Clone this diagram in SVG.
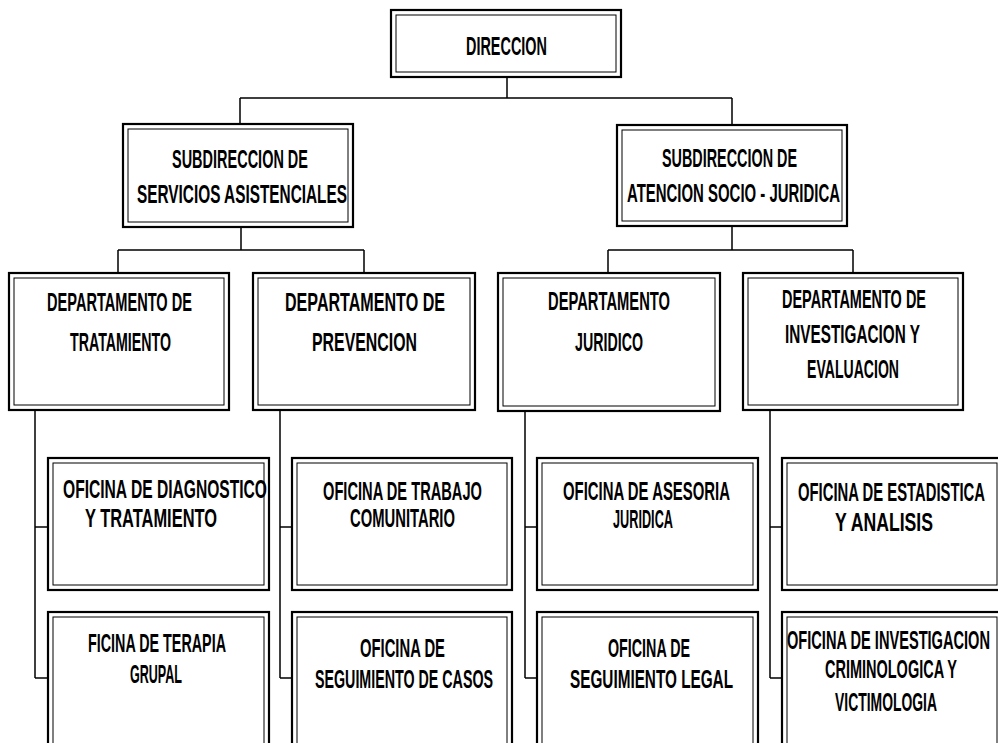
<svg xmlns="http://www.w3.org/2000/svg" width="998" height="743" viewBox="0 0 998 743">
<style>
.outer{fill:#fff;stroke:#000;stroke-width:2.2}
.inner{fill:none;stroke:#000;stroke-width:1}
.t{font-family:"Liberation Sans Narrow","Liberation Sans",Arial,sans-serif;font-size:26px;font-weight:bold;fill:#000;text-anchor:middle}
.c{fill:none;stroke:#000;stroke-width:1.5}
</style>
<rect width="998" height="743" fill="#fff"/>
<g id="connectors">
<path class="c" d="M507,77V98M240,98H732M240,98V124M732,98V125"/>
<path class="c" d="M241,227V250M118,250H364M118,250V273M364,250V273"/>
<path class="c" d="M732,226V250M608,250H853M608,250V273M853,250V273"/>
<path class="c" d="M35,410V678M35,527H48M35,678H48"/>
<path class="c" d="M280,410V678M280,527H292M280,678H292"/>
<path class="c" d="M525,411V678M525,527H537M525,678H537"/>
<path class="c" d="M770,410V678M770,527H782M770,678H782"/>
</g>
<g id="direccion">
<rect class="outer" x="391" y="10" width="230" height="67"/>
<rect class="inner" x="396" y="15" width="220" height="57"/>
<text class="t" x="506.5" y="55" textLength="81" lengthAdjust="spacingAndGlyphs">DIRECCION</text>
</g>
<g id="sub1">
<rect class="outer" x="123" y="124" width="230" height="103"/>
<rect class="inner" x="128" y="129" width="220" height="93"/>
<text class="t" x="240" y="168" textLength="136" lengthAdjust="spacingAndGlyphs">SUBDIRECCION DE</text>
<text class="t" x="242" y="203" textLength="210" lengthAdjust="spacingAndGlyphs">SERVICIOS ASISTENCIALES</text>
</g>
<g id="sub2">
<rect class="outer" x="617" y="125" width="230" height="101"/>
<rect class="inner" x="622" y="130" width="220" height="91"/>
<text class="t" x="729.5" y="167" textLength="135" lengthAdjust="spacingAndGlyphs">SUBDIRECCION DE</text>
<text class="t" x="733.5" y="202" textLength="213" lengthAdjust="spacingAndGlyphs">ATENCION SOCIO - JURIDICA</text>
</g>
<g id="dep1">
<rect class="outer" x="9" y="273" width="220" height="137"/>
<rect class="inner" x="14" y="278" width="210" height="127"/>
<text class="t" x="119.5" y="311" textLength="145" lengthAdjust="spacingAndGlyphs">DEPARTAMENTO DE</text>
<text class="t" x="120.5" y="351" textLength="101" lengthAdjust="spacingAndGlyphs">TRATAMIENTO</text>
</g>
<g id="dep2">
<rect class="outer" x="253" y="273" width="222" height="137"/>
<rect class="inner" x="258" y="278" width="212" height="127"/>
<text class="t" x="365" y="311" textLength="160" lengthAdjust="spacingAndGlyphs">DEPARTAMENTO DE</text>
<text class="t" x="364.5" y="351" textLength="105" lengthAdjust="spacingAndGlyphs">PREVENCION</text>
</g>
<g id="dep3">
<rect class="outer" x="498" y="273" width="222" height="138"/>
<rect class="inner" x="503" y="278" width="212" height="128"/>
<text class="t" x="609" y="310" textLength="122" lengthAdjust="spacingAndGlyphs">DEPARTAMENTO</text>
<text class="t" x="609" y="351" textLength="68" lengthAdjust="spacingAndGlyphs">JURIDICO</text>
</g>
<g id="dep4">
<rect class="outer" x="743" y="273" width="220" height="137"/>
<rect class="inner" x="748" y="278" width="210" height="127"/>
<text class="t" x="854" y="308" textLength="144" lengthAdjust="spacingAndGlyphs">DEPARTAMENTO DE</text>
<text class="t" x="852.5" y="343" textLength="135" lengthAdjust="spacingAndGlyphs">INVESTIGACION Y</text>
<text class="t" x="853" y="378" textLength="92" lengthAdjust="spacingAndGlyphs">EVALUACION</text>
</g>
<g id="of11">
<rect class="outer" x="48" y="458" width="221" height="132"/>
<rect class="inner" x="53" y="463" width="211" height="122"/>
<text class="t" x="165" y="498" textLength="204" lengthAdjust="spacingAndGlyphs">OFICINA DE DIAGNOSTICO</text>
<text class="t" x="151" y="527" textLength="132" lengthAdjust="spacingAndGlyphs">Y TRATAMIENTO</text>
</g>
<g id="of12">
<rect class="outer" x="48" y="612" width="221" height="150"/>
<rect class="inner" x="53" y="617" width="211" height="140"/>
<text class="t" x="157" y="652" textLength="138" lengthAdjust="spacingAndGlyphs">FICINA DE TERAPIA</text>
<text class="t" x="156" y="683" textLength="52" lengthAdjust="spacingAndGlyphs">GRUPAL</text>
</g>
<g id="of21">
<rect class="outer" x="292" y="458" width="220" height="132"/>
<rect class="inner" x="297" y="463" width="210" height="122"/>
<text class="t" x="402.5" y="500" textLength="159" lengthAdjust="spacingAndGlyphs">OFICINA DE TRABAJO</text>
<text class="t" x="402.5" y="527" textLength="105" lengthAdjust="spacingAndGlyphs">COMUNITARIO</text>
</g>
<g id="of22">
<rect class="outer" x="292" y="612" width="220" height="150"/>
<rect class="inner" x="297" y="617" width="210" height="140"/>
<text class="t" x="402.5" y="657" textLength="85" lengthAdjust="spacingAndGlyphs">OFICINA DE</text>
<text class="t" x="404" y="688" textLength="178" lengthAdjust="spacingAndGlyphs">SEGUIMIENTO DE CASOS</text>
</g>
<g id="of31">
<rect class="outer" x="537" y="458" width="221" height="132"/>
<rect class="inner" x="542" y="463" width="211" height="122"/>
<text class="t" x="646.5" y="500" textLength="167" lengthAdjust="spacingAndGlyphs">OFICINA DE ASESORIA</text>
<text class="t" x="643" y="528" textLength="60" lengthAdjust="spacingAndGlyphs">JURIDICA</text>
</g>
<g id="of32">
<rect class="outer" x="537" y="612" width="221" height="150"/>
<rect class="inner" x="542" y="617" width="211" height="140"/>
<text class="t" x="649" y="657" textLength="82" lengthAdjust="spacingAndGlyphs">OFICINA DE</text>
<text class="t" x="651.5" y="688" textLength="163" lengthAdjust="spacingAndGlyphs">SEGUIMIENTO LEGAL</text>
</g>
<g id="of41">
<rect class="outer" x="782" y="458" width="226" height="132"/>
<rect class="inner" x="787" y="463" width="210" height="122"/>
<text class="t" x="891.5" y="501" textLength="187" lengthAdjust="spacingAndGlyphs">OFICINA DE ESTADISTICA</text>
<text class="t" x="884" y="531" textLength="98" lengthAdjust="spacingAndGlyphs">Y ANALISIS</text>
</g>
<g id="of42">
<rect class="outer" x="782" y="612" width="226" height="150"/>
<rect class="inner" x="787" y="617" width="210" height="140"/>
<text class="t" x="888.5" y="649" textLength="203" lengthAdjust="spacingAndGlyphs">OFICINA DE INVESTIGACION</text>
<text class="t" x="891" y="678" textLength="132" lengthAdjust="spacingAndGlyphs">CRIMINOLOGICA Y</text>
<text class="t" x="886" y="711" textLength="102" lengthAdjust="spacingAndGlyphs">VICTIMOLOGIA</text>
</g>
</svg>
